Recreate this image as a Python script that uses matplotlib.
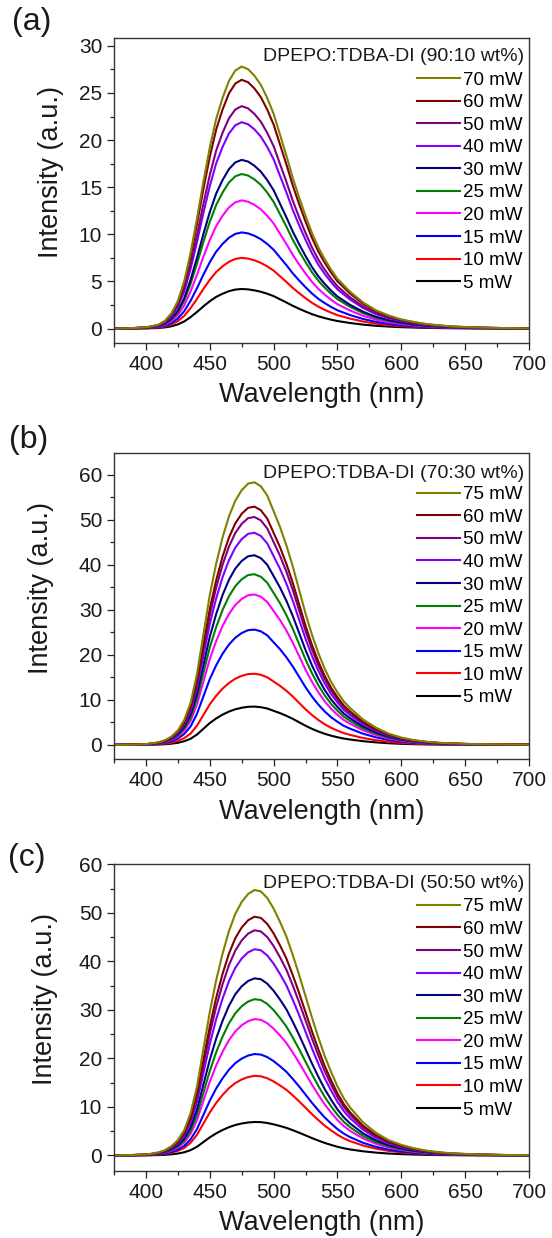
import numpy as np
import matplotlib
matplotlib.use('Agg')
import matplotlib.pyplot as plt
from matplotlib.ticker import MultipleLocator

plt.rcParams['font.family'] = ['Liberation Sans', 'DejaVu Sans']

# emission wavelength grid (nm)
wavelength = [375, 390, 400, 405, 410, 415, 420, 425, 430, 435, 440, 445, 450, 455,
              460, 465, 470, 475, 480, 485, 490, 495, 500, 505, 510, 515, 520, 525,
              530, 535, 540, 545, 550, 555, 560, 570, 580, 590, 600, 610, 620, 630,
              640, 650, 660, 680, 700]

# normalised PL line shape for each blend
profile_a = [0, .002, .005, .009, .015, .03, .058, .105, .18, .29, .42, .56, .69, .80,
             .88, .945, .985, 1.0, .99, .965, .93, .88, .82, .74, .66, .575, .50, .43,
             .365, .31, .265, .225, .19, .165, .14, .10, .07, .05, .035, .025, .017, .012,
             .008, .006, .004, .002, .001]
profile_b = [0, .001, .003, .006, .01, .018, .032, .055, .095, .16, .27, .42, .57, .69,
             .79, .87, .93, .97, .995, 1.0, .985, .95, .89, .83, .76, .68, .59, .50,
             .42, .35, .29, .24, .20, .165, .14, .097, .066, .043, .028, .018, .012, .008,
             .006, .004, .003, .002, .001]
profile_c = [0, .002, .004, .007, .012, .02, .035, .058, .095, .16, .26, .40, .54, .66,
             .76, .845, .91, .955, .985, 1.0, .995, .97, .93, .88, .825, .755, .68, .60,
             .52, .445, .375, .315, .26, .215, .18, .125, .086, .058, .04, .027, .018, .012,
             .008, .006, .004, .002, .001]

# excitation power labels and peak intensities (low -> high)
power_a = ['5 mW', '10 mW', '15 mW', '20 mW', '25 mW', '30 mW', '40 mW', '50 mW', '60 mW', '70 mW']
power_bc = ['5 mW', '10 mW', '15 mW', '20 mW', '25 mW', '30 mW', '40 mW', '50 mW', '60 mW', '75 mW']
peak_a = [4.2, 7.5, 10.2, 13.6, 16.4, 17.9, 21.9, 23.6, 26.4, 27.8]
peak_b = [8.5, 15.8, 25.6, 33.4, 37.9, 42.1, 47.1, 50.6, 52.9, 58.3]
peak_c = [6.9, 16.4, 20.9, 28.1, 32.2, 36.5, 42.5, 46.4, 49.2, 54.7]

colors = ['#000000', '#FF0000', '#0000FF', '#FF00FF', '#008000',
          '#000080', '#8000FF', '#800080', '#800000', '#808000']

titles = ['DPEPO:TDBA-DI (90:10 wt%)', 'DPEPO:TDBA-DI (70:30 wt%)', 'DPEPO:TDBA-DI (50:50 wt%)']

fig = plt.figure(figsize=(5.52, 12.38), dpi=100)
W, H = 552, 1238

def add_axes(top, bottom):
    return fig.add_axes([114 / W, 1 - bottom / H, 415 / W, (bottom - top) / H])

panels = [
    dict(ax=add_axes(38.3, 342.7), prof=profile_a, peaks=peak_a, labels=power_a,
         ylim=(-1.5, 30.8), major=5, minor=2.5, tag='(a)', tagpos=(32, 22),
         ylab_x=-0.152, title_y=0.94, leg_y=0.891),
    dict(ax=add_axes(453.5, 759.3), prof=profile_b, peaks=peak_b, labels=power_bc,
         ylim=(-3.2, 64.7), major=10, minor=5, tag='(b)', tagpos=(29, 440),
         ylab_x=-0.175, title_y=0.936, leg_y=0.893),
    dict(ax=add_axes(864.3, 1171), prof=profile_c, peaks=peak_c, labels=power_bc,
         ylim=(-3.2, 60), major=10, minor=5, tag='(c)', tagpos=(27, 858),
         ylab_x=-0.167, title_y=0.938, leg_y=0.889),
]

wl = np.array(wavelength)
for p, title in zip(panels, titles):
    ax = p['ax']
    prof = np.array(p['prof'])
    lines = []
    for pk, lab, c in zip(p['peaks'], p['labels'], colors):
        ln, = ax.plot(wl, pk * prof, color=c, lw=1.5, label=lab)
        lines.append(ln)

    ax.set_xlim(375, 700)
    ax.set_ylim(*p['ylim'])
    ax.xaxis.set_major_locator(MultipleLocator(50))
    ax.xaxis.set_minor_locator(MultipleLocator(25))
    ax.yaxis.set_major_locator(MultipleLocator(p['major']))
    ax.yaxis.set_minor_locator(MultipleLocator(p['minor']))
    ax.tick_params(which='both', direction='out', top=False, right=False,
                   labelsize=15, width=0.9, color='#222222', labelcolor='#1a1a1a')
    ax.tick_params(which='major', length=5)
    ax.tick_params(which='minor', length=3)
    for s in ax.spines.values():
        s.set_linewidth(1.0)
        s.set_color('#333333')

    ax.set_xlabel('Wavelength (nm)', fontsize=19.5, color='#1a1a1a')
    ax.set_ylabel('Intensity (a.u.)', fontsize=19.5, color='#1a1a1a')
    ax.xaxis.label.set_va('center')
    ax.yaxis.label.set_va('center')
    ax.xaxis.set_label_coords(0.5, -0.171)
    ax.yaxis.set_label_coords(p['ylab_x'], 0.56)

    ax.text(0.988, p['title_y'], title, transform=ax.transAxes, ha='right', va='center',
            fontsize=14, color='#1a1a1a')
    ax.legend(lines[::-1], [l.get_label() for l in lines[::-1]], loc='upper right',
              bbox_to_anchor=(0.985, p['leg_y']), frameon=False, fontsize=13.5,
              borderpad=0, borderaxespad=0, handlelength=2.3, handletextpad=0.17,
              labelspacing=0.29)

    tx, ty = p['tagpos']
    fig.text(tx / W, 1 - ty / H, p['tag'], fontsize=23, ha='center', va='center',
             color='#1a1a1a')

fig.savefig('out.png', dpi=100)
